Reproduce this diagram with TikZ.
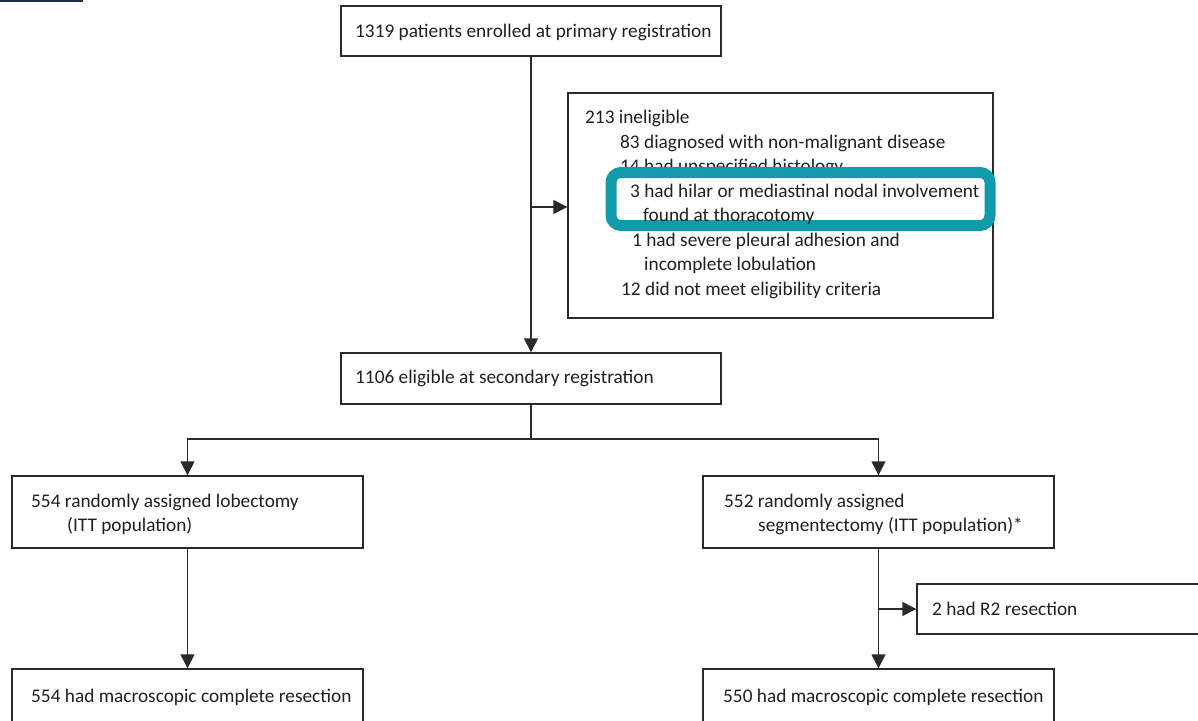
\documentclass[tikz,border=0pt]{standalone}
\usepackage{fontspec}
\setmainfont{Carlito}
\usetikzlibrary{arrows.meta,calc}
\definecolor{ink}{HTML}{231F20}
\definecolor{rule}{HTML}{2A2A2A}
\definecolor{teal}{HTML}{129BAA}
\definecolor{navybar}{HTML}{1F2A44}
\tikzset{
  box/.style={draw=rule, line width=1.4pt, inner sep=0pt, fill=none},
  txt/.style={anchor=base west, inner sep=0pt, text=ink, font=\fontsize{19.3}{22}\selectfont},
  link/.style={draw=rule, line width=1.4pt},
  arr/.style={link, -{Triangle[length=14pt,width=14pt]}},
  hl/.style={draw=teal, line width=11pt, rounded corners=10pt, fill=white, inner sep=0pt},
}
\begin{document}
\begin{tikzpicture}[x=1pt,y=-1pt]
\useasboundingbox (0,0) rectangle (1198,720);
\clip (0,0) rectangle (1198,720);
\fill[white] (0,0) rectangle (1198,720);
\fill[navybar] (0,0) rectangle (83,1.6);

% boxes
\node[box, minimum width=380pt, minimum height=50pt] (enroll) at (531,31) {};
\node[box, minimum width=380pt, minimum height=51pt] (elig) at (531,378.5) {};
\node[box, minimum width=425pt, minimum height=225pt] (inel) at (780.5,205.5) {};
\node[box, minimum width=351pt, minimum height=72pt] (lob) at (187.5,512) {};
\node[box, minimum width=351pt, minimum height=72pt] (seg) at (878.5,512) {};
\node[box, minimum width=333pt, minimum height=50pt] (r2) at (1083.5,609) {};
\node[box, minimum width=351pt, minimum height=71pt] (lobres) at (187.5,704.5) {};
\node[box, minimum width=351pt, minimum height=71pt] (segres) at (878.5,704.5) {};

% connectors
\coordinate (b1) at (531,207);
\coordinate (split) at (531,439);
\coordinate (b2) at (879,609);
\draw[arr] (enroll.south) -- (elig.north);
\draw[arr] (b1) -- (b1 -| inel.west);
\draw[link] (elig.south) -- (split);
\draw[arr] (split) -| (lob.north);
\draw[arr] (split) -| (seg.north);
\draw[arr] (lob.south) -- (lobres.north);
\draw[arr] (seg.south) -- (segres.north);
\draw[arr] (b2) -- (b2 -| r2.west);

% labels
\node[txt] (t1) at (355,37) {1319 patients enrolled at primary registration};
\node[txt] (t2) at (355,383) {1106 eligible at secondary registration};
\node[txt] (i1) at (585,123) {213 ineligible};
\node[txt] (i2) at (620,148) {83 diagnosed with non-malignant disease};
\node[txt] (i3) at (620,172) {14 had unspecified histology};
\node[hl, minimum width=379pt, minimum height=53pt] (hlbox) at (800.5,199) {};
\node[txt] (i4) at (630,197) {3 had hilar or mediastinal nodal involvement};
\node[txt] (i5) at (643,221) {found at thoracotomy};
\node[txt] (i6) at (632,246) {1 had severe pleural adhesion and};
\node[txt] (i7) at (644,270) {incomplete lobulation};
\node[txt] (i8) at (621,295) {12 did not meet eligibility criteria};
\node[txt] (l1) at (31,507) {554 randomly assigned lobectomy};
\node[txt] (l2) at (67,531) {(ITT population)};
\node[txt] (s1) at (724,507) {552 randomly assigned};
\node[txt] (s2) at (758,531) {segmentectomy (ITT population)*};
\node[txt] (r) at (932,615) {2 had R2 resection};
\node[txt] (lr) at (31,702) {554 had macroscopic complete resection};
\node[txt] (sr) at (723,702) {550 had macroscopic complete resection};
\end{tikzpicture}
\end{document}
